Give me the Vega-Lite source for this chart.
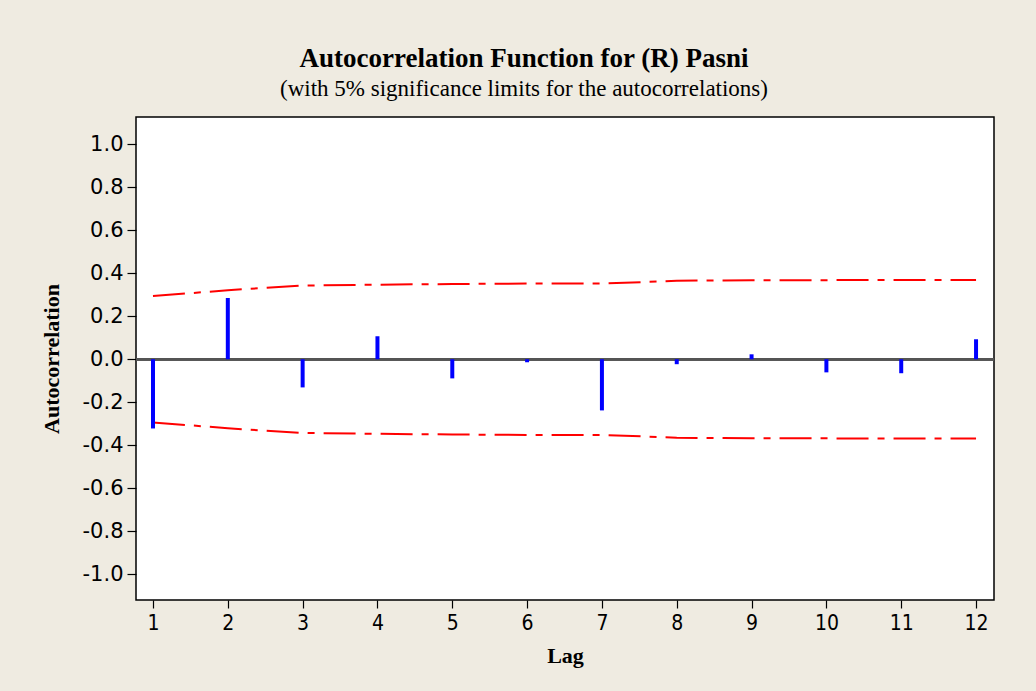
{
  "$schema": "https://vega.github.io/schema/vega-lite/v6.json",
  "width": 858,
  "height": 483,
  "autosize": {"type": "none"},
  "padding": {"left": 136, "top": 117, "right": 42, "bottom": 91},
  "background": "#efebe1",
  "config": {
    "view": {"fill": "white", "stroke": "black", "strokeWidth": 1.5},
    "axis": {
      "grid": false,
      "domain": false,
      "tickColor": "black",
      "tickWidth": 1.2,
      "labelColor": "black",
      "labelPadding": 4,
      "titleFont": "Liberation Serif",
      "titleFontSize": 22,
      "titleFontWeight": "bold",
      "titleColor": "black"
    },
    "axisX": {"tickSize": 8, "titlePadding": 12, "labelFont": "DejaVu Sans Condensed", "labelFontSize": 21},
    "axisY": {"tickSize": 9, "titlePadding": 19, "labelFont": "DejaVu Sans", "labelFontSize": 21}
  },
  "title": {
    "text": "Autocorrelation Function for (R) Pasni",
    "subtitle": "(with 5% significance limits for the autocorrelations)",
    "font": "Liberation Serif",
    "fontSize": 27,
    "fontWeight": "bold",
    "color": "black",
    "subtitleFont": "Liberation Serif",
    "subtitleFontSize": 23,
    "subtitleFontWeight": "normal",
    "subtitleColor": "black",
    "subtitlePadding": 5,
    "anchor": "middle",
    "frame": "group",
    "dx": -41,
    "offset": 15
  },
  "data": {
    "values": [
      {"lag": 1, "acf": -0.322, "ucl": 0.294, "lcl": -0.294},
      {"lag": 2, "acf": 0.285, "ucl": 0.321, "lcl": -0.321},
      {"lag": 3, "acf": -0.131, "ucl": 0.343, "lcl": -0.343},
      {"lag": 4, "acf": 0.107, "ucl": 0.347, "lcl": -0.347},
      {"lag": 5, "acf": -0.089, "ucl": 0.350, "lcl": -0.350},
      {"lag": 6, "acf": -0.014, "ucl": 0.352, "lcl": -0.352},
      {"lag": 7, "acf": -0.238, "ucl": 0.352, "lcl": -0.352},
      {"lag": 8, "acf": -0.023, "ucl": 0.365, "lcl": -0.365},
      {"lag": 9, "acf": 0.023, "ucl": 0.368, "lcl": -0.368},
      {"lag": 10, "acf": -0.061, "ucl": 0.368, "lcl": -0.368},
      {"lag": 11, "acf": -0.065, "ucl": 0.369, "lcl": -0.369},
      {"lag": 12, "acf": 0.093, "ucl": 0.369, "lcl": -0.369}
    ]
  },
  "layer": [
    {
      "mark": {"type": "line", "color": "#ff0000", "strokeWidth": 2, "strokeDash": [32, 9, 7, 9]},
      "encoding": {
        "x": {
          "field": "lag", "type": "quantitative",
          "scale": {"domain": [0.773, 12.24], "nice": false, "zero": false},
          "axis": {"title": "Lag", "values": [1, 2, 3, 4, 5, 6, 7, 8, 9, 10, 11, 12], "format": "d"}
        },
        "y": {
          "field": "ucl", "type": "quantitative",
          "scale": {"domain": [-1.12, 1.127], "nice": false, "zero": false},
          "axis": {"title": "Autocorrelation", "values": [-1, -0.8, -0.6, -0.4, -0.2, 0, 0.2, 0.4, 0.6, 0.8, 1], "labelExpr": "replace(format(datum.value, '.1f'), '\u2212', '-')"}
        }
      }
    },
    {
      "mark": {"type": "line", "color": "#ff0000", "strokeWidth": 2, "strokeDash": [32, 9, 7, 9]},
      "encoding": {
        "x": {
          "field": "lag", "type": "quantitative",
          "scale": {"domain": [0.773, 12.24], "nice": false, "zero": false},
          "axis": {"title": "Lag", "values": [1, 2, 3, 4, 5, 6, 7, 8, 9, 10, 11, 12], "format": "d"}
        },
        "y": {
          "field": "lcl", "type": "quantitative",
          "scale": {"domain": [-1.12, 1.127], "nice": false, "zero": false},
          "axis": {"title": "Autocorrelation", "values": [-1, -0.8, -0.6, -0.4, -0.2, 0, 0.2, 0.4, 0.6, 0.8, 1], "labelExpr": "replace(format(datum.value, '.1f'), '\u2212', '-')"}
        }
      }
    },
    {
      "mark": {"type": "rule", "color": "#555555", "strokeWidth": 2},
      "encoding": {
        "y": {
          "datum": 0, "type": "quantitative",
          "scale": {"domain": [-1.12, 1.127], "nice": false, "zero": false},
          "axis": {"title": "Autocorrelation", "values": [-1, -0.8, -0.6, -0.4, -0.2, 0, 0.2, 0.4, 0.6, 0.8, 1], "labelExpr": "replace(format(datum.value, '.1f'), '\u2212', '-')"}
        }
      }
    },
    {
      "mark": {"type": "rule", "color": "#0000ff", "strokeWidth": 4},
      "encoding": {
        "x": {
          "field": "lag", "type": "quantitative",
          "scale": {"domain": [0.773, 12.24], "nice": false, "zero": false},
          "axis": {"title": "Lag", "values": [1, 2, 3, 4, 5, 6, 7, 8, 9, 10, 11, 12], "format": "d"}
        },
        "y": {
          "field": "acf", "type": "quantitative",
          "scale": {"domain": [-1.12, 1.127], "nice": false, "zero": false},
          "axis": {"title": "Autocorrelation", "values": [-1, -0.8, -0.6, -0.4, -0.2, 0, 0.2, 0.4, 0.6, 0.8, 1], "labelExpr": "replace(format(datum.value, '.1f'), '\u2212', '-')"}
        },
        "y2": {"datum": 0}
      }
    }
  ]
}
